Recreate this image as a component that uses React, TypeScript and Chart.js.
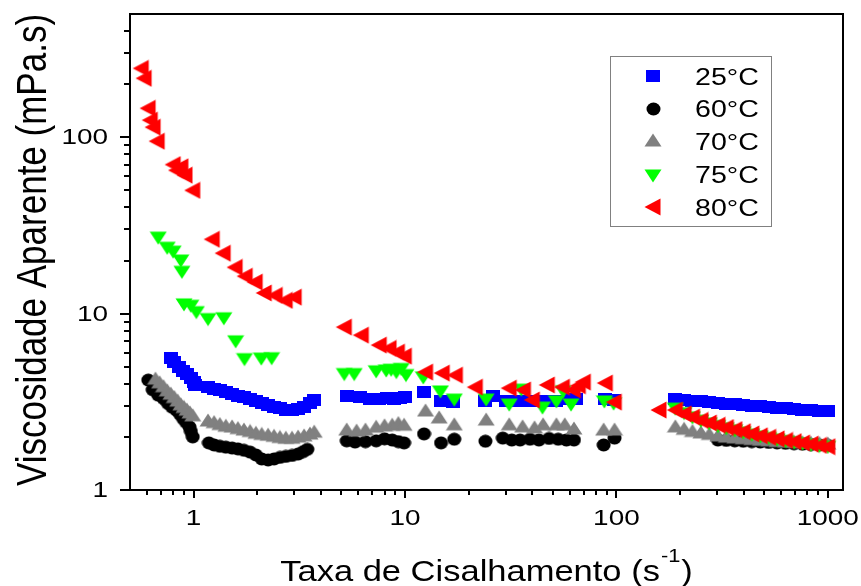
import React, { useEffect, useRef } from 'react';
import { Chart, registerables } from 'chart.js';

Chart.register(...registerables);

const FONT_FAMILY = '"Liberation Sans", Arial, Helvetica, sans-serif';

// Axis limits: shear rate (s^-1) and apparent viscosity (mPa.s)
const X_MIN = 0.5;
const X_MAX = 1180;
const Y_MIN = 1;
const Y_MAX = 500;

const xTickValues = [1, 10, 100, 1000];
const xTickLabels = ['1', '10', '100', '1000'];
const yTickValues = [1, 10, 100];
const yTickLabels = ['1', '10', '100'];

const xTitleMain = 'Taxa de Cisalhamento (s';
const xTitleSup = '-1';
const xTitleEnd = ')';
const yTitle = 'Viscosidade Aparente (mPa.s)';

const seriesNames = ['25°C', '60°C', '70°C', '75°C', '80°C'];
const seriesColors = ['#0000FF', '#000000', '#808080', '#00FF00', '#FF0000'];
type MarkerKind = 'square' | 'circle' | 'up' | 'down' | 'left';
const seriesMarkers: MarkerKind[] = ['square', 'circle', 'up', 'down', 'left'];

// 25 °C
const rate25 = [
  0.78, 0.81, 0.85, 0.89, 0.93, 0.97, 1.0, 1.02,
  1.17, 1.25, 1.33, 1.42, 1.52, 1.62, 1.73, 1.85, 1.97, 2.1, 2.25, 2.4, 2.56, 2.73, 2.92, 3.12, 3.33, 3.55, 3.72,
  5.3, 6.1, 6.8, 7.5, 8.2, 8.9, 9.5, 10.0,
  12.3, 14.8, 16.9, 24, 26.1, 30.1, 33.6, 38.3, 41.7, 46.5, 51.8, 60, 64.5, 88, 97,
  190, 209, 229, 251, 275, 302, 331, 363, 398, 437, 479, 525, 575, 631, 692, 759, 832, 912, 1000,
];
const visc25 = [
  5.6, 5.3, 5.0, 4.75, 4.55, 4.3, 4.1, 3.95,
  3.83, 3.75, 3.68, 3.6, 3.5, 3.42, 3.35, 3.28, 3.18, 3.1, 3.02, 2.95, 2.9, 2.86, 2.85, 2.88, 2.95, 3.1, 3.22,
  3.41, 3.35, 3.3, 3.3, 3.32, 3.3, 3.32, 3.35,
  3.59, 3.19, 3.15, 3.19, 3.41, 3.19, 3.19, 3.19, 3.19, 3.19, 3.19, 3.28, 3.28, 3.28, 3.24,
  3.28, 3.24, 3.21, 3.18, 3.15, 3.12, 3.09, 3.06, 3.03, 3.0, 2.98, 2.95, 2.93, 2.9, 2.88, 2.86, 2.84, 2.82, 2.8,
];

// 60 °C
const rate60 = [
  0.61, 0.64, 0.68, 0.72, 0.755, 0.79, 0.827, 0.86, 0.89, 0.92, 0.955, 0.97, 0.99,
  1.18, 1.25, 1.33, 1.42, 1.52, 1.62, 1.73, 1.85, 1.97, 2.1, 2.25, 2.4, 2.56, 2.73, 2.92, 3.12, 3.3, 3.45,
  5.3, 5.8, 6.5, 7.3, 8.0, 8.7, 9.3, 9.9,
  12.3, 14.8, 17.1, 24, 29, 32, 35, 39, 43, 48, 53, 58, 63, 87, 98,
  302, 331, 363, 398, 437, 479, 525, 575, 631, 692, 759, 832, 912, 1000,
];
const visc60 = [
  4.2, 3.7, 3.45, 3.3, 3.1, 2.95, 2.84, 2.7, 2.55, 2.42, 2.28, 2.15, 2.0,
  1.85, 1.8, 1.77, 1.75, 1.73, 1.71, 1.68, 1.64, 1.58, 1.5, 1.48, 1.5, 1.53, 1.55, 1.57, 1.6, 1.65, 1.7,
  1.9, 1.87, 1.88, 1.9, 1.95, 1.92, 1.88, 1.85,
  2.08, 1.85, 1.94, 1.89, 1.97, 1.92, 1.92, 1.94, 1.92, 1.96, 1.94, 1.92, 1.92, 1.8, 1.97,
  1.92, 1.91, 1.9, 1.89, 1.88, 1.87, 1.86, 1.85, 1.84, 1.83, 1.82, 1.81, 1.8, 1.79,
];

// 70 °C
const rate70 = [
  0.66, 0.69, 0.72, 0.75, 0.78, 0.81, 0.84, 0.87, 0.9, 0.93, 0.96, 0.99,
  1.17, 1.25, 1.33, 1.42, 1.52, 1.62, 1.73, 1.85, 1.97, 2.1, 2.25, 2.4, 2.56, 2.73, 2.92, 3.12, 3.33, 3.55, 3.72,
  5.3, 5.9, 6.5, 7.3, 8.0, 8.7, 9.3, 9.9,
  12.5, 14.5, 17.1, 24.2, 31.1, 36, 41, 45, 52, 57, 63, 87, 98,
  190, 209, 229, 251, 275, 302, 331, 363, 398, 437, 479, 525, 575, 631, 692, 759, 832, 912, 1000,
];
const visc70 = [
  4.2, 4.0, 3.8, 3.6, 3.45, 3.3, 3.15, 3.0, 2.9, 2.8, 2.7, 2.6,
  2.43, 2.38, 2.32, 2.27, 2.25, 2.2, 2.16, 2.12, 2.07, 2.04, 2.02, 1.99, 1.96, 1.94, 1.94, 1.97, 2.0, 2.05, 2.1,
  2.16, 2.13, 2.16, 2.24, 2.28, 2.3, 2.35, 2.3,
  2.77, 2.53, 2.31, 2.46, 2.31, 2.25, 2.22, 2.31, 2.31, 2.31, 2.19, 2.16, 2.16,
  2.25, 2.18, 2.12, 2.08, 2.04, 2.0, 1.97, 1.95, 1.93, 1.91, 1.89, 1.88, 1.86, 1.85, 1.84, 1.83, 1.82, 1.81, 1.8,
];

// 75 °C
const rate75 = [
  0.68, 0.75, 0.8, 0.87, 0.88, 0.9, 0.97, 1.03,
  1.17, 1.39, 1.58, 1.74, 2.09, 2.34,
  5.16, 5.75, 7.3, 8.15, 8.6, 9.1, 9.6, 10.1,
  12.2, 14.7, 17.1, 24.2, 31.1, 35.5, 44.7, 52, 56, 61, 87.7, 97,
  190, 209, 229, 251, 275, 302, 331, 363, 398, 437, 479, 525, 575, 631, 692, 759, 832, 912, 1000,
];
const visc75 = [
  27.5, 24.1, 22.9, 20.4, 17.6, 11.5, 11.3, 10.4,
  9.5, 9.6, 7.1, 5.63, 5.67, 5.7,
  4.63, 4.63, 4.8, 4.85, 4.9, 4.75, 4.95, 4.57,
  4.43, 3.69, 3.32, 3.32, 3.11, 3.78, 2.99, 3.24, 3.7, 3.11, 3.24, 3.15,
  2.95, 2.78, 2.63, 2.52, 2.43, 2.35, 2.28, 2.22, 2.16, 2.1, 2.05, 2.01, 1.97, 1.93, 1.9, 1.87, 1.84, 1.81, 1.79,
];

// 80 °C
const rate80 = [
  0.565, 0.583, 0.609, 0.623, 0.643, 0.672, 0.8, 0.83, 0.87, 0.91, 0.99,
  1.224, 1.379, 1.571, 1.753, 1.954, 2.157, 2.43, 2.71, 2.99,
  5.16, 6.21, 7.55, 8.4, 9.2, 9.92,
  12.5, 15.0, 17.3, 21.5, 31.1, 36.3, 40, 47.1, 55.5, 62.5, 66, 69.7, 88.6, 97.7,
  159, 190, 209, 229, 251, 275, 302, 331, 363, 398, 437, 479, 525, 575, 631, 692, 759, 832, 912, 1000,
];
const visc80 = [
  246, 216, 146, 125, 114, 95, 70, 65, 68, 61, 50,
  26.4, 22.0, 18.3, 16.3, 15.1, 13.1, 12.7, 11.9, 12.4,
  8.39, 7.55, 6.63, 6.35, 6.05, 5.74,
  4.66, 4.6, 4.48, 3.83, 3.78, 3.69, 3.24, 3.94, 3.83, 3.69, 3.9, 4.09, 4.04, 3.15,
  2.84, 2.84, 2.7, 2.59, 2.48, 2.4, 2.33, 2.26, 2.2, 2.14, 2.08, 2.03, 1.99, 1.95, 1.91, 1.88, 1.85, 1.82, 1.79, 1.76,
];

const seriesRates = [rate25, rate60, rate70, rate75, rate80];
const seriesViscs = [visc25, visc60, visc70, visc75, visc80];

// Filled marker bitmaps, centred on the canvas middle
function makeMarker(kind: MarkerKind, color: string): HTMLCanvasElement {
  const c = document.createElement('canvas');
  if (kind === 'square') { c.width = 14; c.height = 12; }
  else if (kind === 'circle') { c.width = 15; c.height = 14; }
  else { c.width = 18; c.height = 18; }
  const g = c.getContext('2d')!;
  g.fillStyle = color;
  g.beginPath();
  switch (kind) {
    case 'square':
      g.rect(0, 0, 14, 12);
      break;
    case 'circle':
      g.ellipse(7.5, 7, 7, 6.5, 0, 0, Math.PI * 2);
      break;
    case 'up':
      g.moveTo(9, 0.5); g.lineTo(17.5, 13.5); g.lineTo(0.5, 13.5);
      break;
    case 'down':
      g.moveTo(0.5, 4.5); g.lineTo(17.5, 4.5); g.lineTo(9, 17.5);
      break;
    case 'left':
      g.moveTo(0.5, 9); g.lineTo(16.5, 0.5); g.lineTo(16.5, 17.5);
      break;
  }
  g.closePath();
  g.fill();
  return c;
}

function drawScaledText(
  ctx: CanvasRenderingContext2D, text: string, x: number, y: number,
  size: number, sx: number, align: CanvasTextAlign,
) {
  ctx.save();
  ctx.translate(x, y);
  ctx.scale(sx, 1);
  ctx.font = `${size}px ${FONT_FAMILY}`;
  ctx.textAlign = align;
  ctx.textBaseline = 'alphabetic';
  ctx.fillStyle = '#000';
  ctx.fillText(text, 0, 0);
  ctx.restore();
}

function makeFramePlugin(markers: HTMLCanvasElement[]) {
  return {
    id: 'logFrame',
    afterDatasetsDraw(chart: Chart) {
      const ctx = chart.ctx;
      const a = chart.chartArea;
      const xs = chart.scales.x;
      const ys = chart.scales.y;
      ctx.save();

      // frame
      ctx.strokeStyle = '#000';
      ctx.lineWidth = 2;
      ctx.strokeRect(a.left, a.top, a.right - a.left, a.bottom - a.top);

      // tick marks (outside the frame)
      ctx.beginPath();
      for (const d of [0.1, 1, 10, 100, 1000]) {
        for (let m = 1; m <= 9; m++) {
          const v = m * d;
          if (v <= X_MIN * 1.001 || v > X_MAX) continue;
          const px = Math.round(xs.getPixelForValue(v));
          const len = m === 1 ? 8 : 5;
          ctx.moveTo(px, a.bottom);
          ctx.lineTo(px, a.bottom + len);
        }
      }
      for (const d of [1, 10, 100]) {
        for (let m = 1; m <= 9; m++) {
          const v = m * d;
          if (v < Y_MIN || v >= Y_MAX) continue;
          const py = Math.round(ys.getPixelForValue(v));
          const len = m === 1 ? 10 : 6;
          ctx.moveTo(a.left, py);
          ctx.lineTo(a.left - len, py);
        }
      }
      ctx.stroke();

      // tick labels
      xTickValues.forEach((v, i) => {
        drawScaledText(ctx, xTickLabels[i], xs.getPixelForValue(v), a.bottom + 35, 22, 1.27, 'center');
      });
      yTickValues.forEach((v, i) => {
        drawScaledText(ctx, yTickLabels[i], a.left - 22, ys.getPixelForValue(v) + 7, 22, 1.27, 'right');
      });

      // x axis title with superscript
      {
        const sx = 1.15;
        const mainSize = 30;
        const supSize = 19;
        ctx.font = `${mainSize}px ${FONT_FAMILY}`;
        const w1 = ctx.measureText(xTitleMain).width * sx;
        const w3 = ctx.measureText(xTitleEnd).width * sx;
        ctx.font = `${supSize}px ${FONT_FAMILY}`;
        const w2 = ctx.measureText(xTitleSup).width * sx;
        const total = w1 + w2 + w3 + 2;
        const cx = (a.left + a.right) / 2;
        const base = a.bottom + 91;
        let x0 = cx - total / 2;
        drawScaledText(ctx, xTitleMain, x0, base, mainSize, sx, 'left');
        x0 += w1 + 1;
        drawScaledText(ctx, xTitleSup, x0, base - 19, supSize, sx, 'left');
        x0 += w2 + 1;
        drawScaledText(ctx, xTitleEnd, x0, base, mainSize, sx, 'left');
      }

      // y axis title, rotated
      {
        ctx.save();
        ctx.translate(a.left - 84, (a.top + a.bottom) / 2 - 2);
        ctx.rotate(-Math.PI / 2);
        ctx.scale(1, 1.22);
        ctx.font = `35px ${FONT_FAMILY}`;
        ctx.textAlign = 'center';
        ctx.textBaseline = 'alphabetic';
        ctx.fillStyle = '#000';
        ctx.fillText(yTitle, 0, 0);
        ctx.restore();
      }

      // legend box
      {
        const bx = a.right - 233;
        const by = a.top + 42;
        ctx.strokeStyle = '#808080';
        ctx.lineWidth = 1;
        ctx.strokeRect(bx + 0.5, by + 0.5, 161, 170);
        seriesNames.forEach((name, i) => {
          const ry = by + 20 + i * 32.75;
          const mk = markers[i];
          ctx.drawImage(mk, Math.round(bx + 43 - mk.width / 2), Math.round(ry - mk.height / 2));
          drawScaledText(ctx, name, bx + 85, ry + 8.5, 24, 1.19, 'left');
        });
      }

      ctx.restore();
    },
  };
}

export default function App() {
  const canvasRef = useRef<HTMLCanvasElement | null>(null);

  useEffect(() => {
    const canvas = canvasRef.current;
    if (!canvas) return;
    const markers = seriesMarkers.map((k, i) => makeMarker(k, seriesColors[i]));

    const datasets = seriesNames.map((name, i) => ({
      label: name,
      data: seriesRates[i].map((x, j) => ({ x, y: seriesViscs[i][j] })),
      pointStyle: markers[i] as any,
      pointRadius: 7,
      pointHoverRadius: 7,
      backgroundColor: seriesColors[i],
      borderColor: seriesColors[i],
      showLine: false,
      order: seriesNames.length - i,
    }));

    const chart = new Chart(canvas, {
      type: 'scatter',
      data: { datasets },
      options: {
        animation: false,
        responsive: true,
        maintainAspectRatio: false,
        layout: { padding: { left: 130, right: 18, top: 14, bottom: 96 } },
        scales: {
          x: { type: 'logarithmic', min: X_MIN, max: X_MAX, display: false },
          y: { type: 'logarithmic', min: Y_MIN, max: Y_MAX, display: false },
        },
        plugins: {
          legend: { display: false },
          tooltip: { enabled: false },
        },
      },
      plugins: [makeFramePlugin(markers)],
    });

    return () => chart.destroy();
  }, []);

  return (
    <div style={{ position: 'fixed', left: 0, top: 0, width: 861, height: 586, background: '#fff' }}>
      <canvas ref={canvasRef} />
    </div>
  );
}
